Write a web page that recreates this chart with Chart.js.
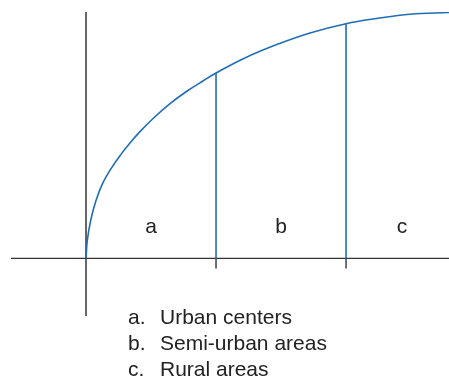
<!DOCTYPE html>
<html>
<head>
<meta charset="utf-8">
<script src="https://cdn.jsdelivr.net/npm/chart.js@4.4.0/dist/chart.umd.min.js"></script>
<style>
  html, body { margin: 0; padding: 0; background: #fff; }
  #wrap { position: relative; width: 449px; height: 378px; }
  #chart { position: absolute; left: 0; top: 0; }
  .legend {
    position: absolute; left: 128px; top: 304px;
    font-family: "Liberation Sans", Arial, sans-serif; font-size: 21px; color: #222;
    line-height: 26px; white-space: nowrap;
  }
  .legend span { display: inline-block; width: 32px; }
</style>
</head>
<body>
<div id="wrap">
  <canvas id="chart" width="449" height="378"></canvas>
  <div class="legend">
    <div><span>a.</span>Urban centers</div>
    <div><span>b.</span>Semi-urban areas</div>
    <div><span>c.</span>Rural areas</div>
  </div>
</div>
<script>
// curve (x in zone widths, y in the same unit)
const curveX = [0, 0.010, 0.036, 0.075, 0.125, 0.190, 0.267, 0.338, 0.415, 0.518, 0.646, 0.775, 0.902, 1.0, 1.21, 1.467, 1.723, 2.0, 2.236, 2.492, 2.792];
const curveY = [0, 0.138, 0.292, 0.438, 0.569, 0.685, 0.796, 0.885, 0.972, 1.075, 1.187, 1.282, 1.363, 1.422, 1.532, 1.64, 1.729, 1.80, 1.84, 1.873, 1.886];

// zone borders and their height on the curve
const borderX = [1, 2];
const borderY = [1.422, 1.80];

// zone labels
const zoneLabels = ['a', 'b', 'c'];
const zoneLabelX = [0.5, 1.5, 2.43];
const zoneLabelY = 0.242;

const BLUE = '#1f6db8';

const datasets = [{
    data: curveX.map((x, i) => ({ x: x, y: curveY[i] })),
    borderColor: BLUE,
    borderWidth: 1.6,
    pointRadius: 0,
    tension: 0.4,
    fill: false
}];

borderX.forEach((x, i) => {
    datasets.push({
        data: [{ x: x, y: 0 }, { x: x, y: borderY[i] }],
        borderColor: BLUE,
        borderWidth: 1.6,
        pointRadius: 0,
        fill: false
    });
});

// axes, tick marks and zone letters
const axesPlugin = {
    id: 'axesPlugin',
    beforeDatasetsDraw(chart) {
        const { ctx, chartArea, scales } = chart;
        const x0 = scales.x.getPixelForValue(0);
        const y0 = scales.y.getPixelForValue(0);
        ctx.save();
        // vertical axis
        ctx.strokeStyle = '#666';
        ctx.lineWidth = 2;
        ctx.beginPath();
        ctx.moveTo(x0, chartArea.top);
        ctx.lineTo(x0, chartArea.bottom);
        ctx.stroke();
        // horizontal axis
        ctx.strokeStyle = '#333';
        ctx.lineWidth = 1.4;
        ctx.beginPath();
        ctx.moveTo(chartArea.left, y0);
        ctx.lineTo(chartArea.right, y0);
        ctx.stroke();
        // ticks below the axis
        borderX.forEach(x => {
            const px = scales.x.getPixelForValue(x);
            ctx.beginPath();
            ctx.moveTo(px, y0);
            ctx.lineTo(px, y0 + 10);
            ctx.stroke();
        });
        // zone letters
        ctx.fillStyle = '#222';
        ctx.font = '21px "Liberation Sans", Arial, sans-serif';
        ctx.textAlign = 'center';
        ctx.textBaseline = 'middle';
        zoneLabels.forEach((t, i) => {
            ctx.fillText(t, scales.x.getPixelForValue(zoneLabelX[i]), scales.y.getPixelForValue(zoneLabelY));
        });
        ctx.restore();
    }
};

new Chart(document.getElementById('chart'), {
    type: 'line',
    data: { datasets: datasets },
    options: {
        responsive: false,
        animation: false,
        layout: { padding: { left: 11, top: 12, right: 0, bottom: 62 } },
        plugins: { legend: { display: false }, tooltip: { enabled: false } },
        scales: {
            x: { type: 'linear', min: -0.577, max: 2.792, display: false },
            y: { type: 'linear', min: -0.442, max: 1.89, display: false }
        }
    },
    plugins: [axesPlugin]
});
</script>
</body>
</html>
